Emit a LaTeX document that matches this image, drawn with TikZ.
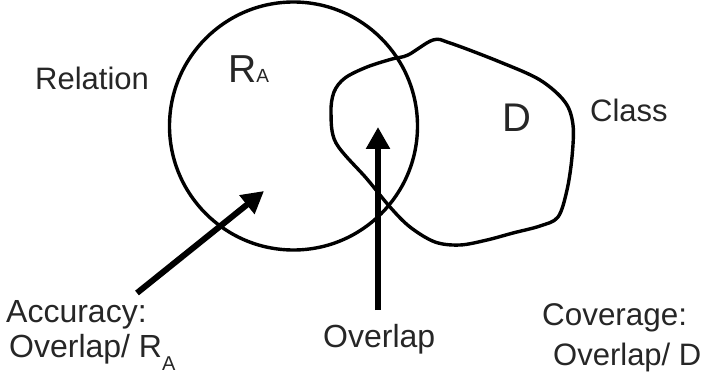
\documentclass[tikz,border=0pt]{standalone}
\usepackage{fontspec}
\setmainfont{Liberation Sans}
\usetikzlibrary{arrows.meta}
\begin{document}
\begin{tikzpicture}[x=1pt,y=-1pt,
  lbl/.style={anchor=base west,inner sep=0pt,text=black!85},
  outline/.style={draw=black,line width=3.4pt},
  bigarrow/.style={line width=6pt,-{Triangle[length=22pt,width=23pt]}}]
\useasboundingbox (0,0) rectangle (702,377);
% relation circle
\node[outline,circle,minimum size=248pt,inner sep=0pt] (ra) at (293.5,126) {};
% class blob
\draw[outline,line join=round] plot[smooth cycle,tension=0.55] coordinates {
  (408,55) (433,40) (450,43) (500,62) (540,80) (565,102) (573,125)
  (572,157) (567,190) (558,217) (540,226) (513,233) (487,240) (460,245)
  (435,242) (410,227) (390,207) (367,179) (336,143) (331,113) (334,92)
  (345,78) (367,67) (392,59)};
% labels
\node[lbl,font=\fontsize{31}{31}\selectfont] (rel) at (35,90) {Relation};
\node[lbl] (rlab) at (228,83) {\fontsize{39}{39}\selectfont R\fontsize{19}{19}\selectfont A};
\node[lbl,font=\fontsize{40}{40}\selectfont] (dlab) at (502,132) {D};
\node[lbl,font=\fontsize{31}{31}\selectfont] (cls) at (590,122) {Class};
\node[lbl,font=\fontsize{32}{32}\selectfont] (acc) at (6,322) {Accuracy:};
\node[lbl,font=\fontsize{32}{32}\selectfont] (accf) at (9,357) {Overlap/ R\raisebox{-13pt}{\fontsize{20}{20}\selectfont A}};
\node[lbl,font=\fontsize{32}{32}\selectfont] (ovl) at (323,347) {Overlap};
\node[lbl,font=\fontsize{31.4}{31.4}\selectfont] (cov) at (542,325) {Coverage:};
\node[lbl,font=\fontsize{31}{31}\selectfont] (covf) at (553,365) {Overlap/ D};
% arrows
\coordinate (acctail) at (137,293);
\coordinate (acctip) at (264,191);
\coordinate (ovltail) at (378,310);
\coordinate (ovltip) at (378,127);
\draw[bigarrow] (acctail) -- (acctip);
\draw[bigarrow] (ovltail) -- (ovltip);
\end{tikzpicture}
\end{document}
